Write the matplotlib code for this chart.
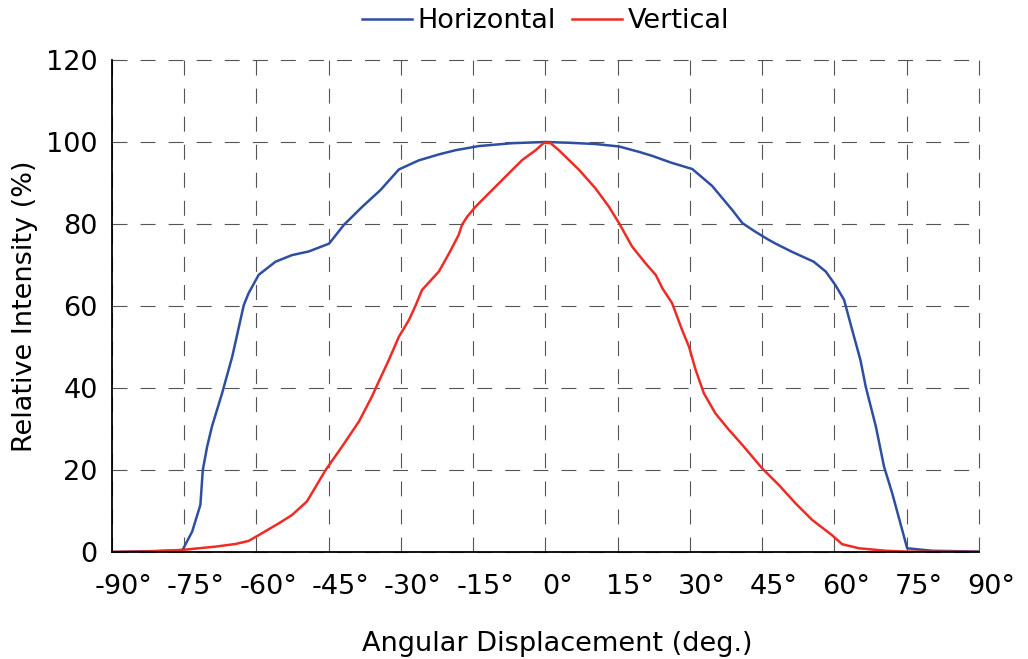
import matplotlib

matplotlib.use("Agg")
import matplotlib.pyplot as plt
import matplotlib.transforms as mtransforms

# angles (deg) and relative intensity (%)
horizontal_angle = [
    -90, -82, -77, -75.3, -73.3, -71.6, -71.1, -70.2, -69.2, -67.1, -65.0,
    -62.6, -61.6, -59.5, -56.0, -52.6, -49.1, -44.9, -41.8, -38.0, -34.2,
    -30.4, -26.3, -22.0, -18.6, -13.8, -6.9, 0, 5.0, 10.4, 15.3, 19.4, 22.2,
    26.0, 30.5, 34.6, 38.8, 40.9, 43.6, 46.4, 47.8, 51.2, 55.7, 58.2, 60.2,
    62.0, 63.7, 65.4, 66.5, 68.6, 70.3, 72.0, 75.1, 80.3, 90,
]
horizontal_value = [
    0.0, 0.2, 0.35, 0.5, 5.0, 11.5, 20.0, 25.7, 30.6, 38.7, 47.6,
    60.2, 63.1, 67.6, 70.8, 72.4, 73.3, 75.2, 79.8, 84.2, 88.3,
    93.3, 95.5, 97.0, 98.0, 99.0, 99.7, 100.0, 99.8, 99.5, 98.9, 97.6, 96.6,
    95.0, 93.4, 89.3, 83.4, 80.2, 78.1, 76.1, 75.2, 73.2, 70.8, 68.4, 65.1,
    61.5, 54.1, 46.8, 40.3, 30.6, 20.8, 14.3, 0.9, 0.3, 0.1,
]

vertical_angle = [
    -90, -82.3, -75.4, -68.5, -64.3, -61.6, -59.5, -55.3, -52.6, -49.5,
    -45.6, -42.2, -38.7, -36.0, -34.6, -32.5, -30.4, -28.3, -26.9, -25.6,
    -22.1, -20.0, -18.0, -17.3, -16.2, -14.5, -11.7, -8.3, -4.8, -2.0, -0.3,
    1.1, 2.8, 7.0, 10.4, 13.2, 15.3, 18.0, 20.8, 22.9, 24.3, 26.3, 28.4,
    29.8, 31.2, 32.9, 35.3, 38.1, 40.9, 45.0, 48.5, 51.9, 55.4, 59.5, 61.6,
    65.1, 70.6, 74.8, 90,
]
vertical_value = [
    0.0, 0.1, 0.5, 1.3, 1.95, 2.7, 4.1, 7.0, 9.0, 12.3,
    20.0, 25.7, 31.8, 37.9, 41.5, 46.8, 52.5, 56.6, 60.2, 63.9,
    68.4, 72.8, 77.3, 79.8, 81.8, 84.2, 87.5, 91.5, 95.6, 98.0, 99.8,
    99.7, 98.0, 93.2, 88.7, 84.2, 80.2, 74.5, 70.4, 67.6, 64.3, 60.7, 54.1,
    50.1, 44.4, 38.7, 33.8, 29.8, 26.1, 20.4, 16.3, 11.9, 7.8, 4.1, 1.9,
    0.9, 0.3, 0.1, 0.0,
]

x_ticks = list(range(-90, 91, 15))
x_tick_labels = [f"{t}°" for t in x_ticks]
y_ticks = list(range(0, 121, 20))

plt.rcParams["font.family"] = ["DejaVu Sans"]
plt.rcParams["lines.scale_dashes"] = False

fig = plt.figure(figsize=(10.28, 6.59), dpi=100)
ax = fig.add_axes([0.1087, 0.1624, 0.8436, 0.7466])

ax.plot(horizontal_angle, horizontal_value, color="#2E4EA0", lw=1.8,
        label="Horizontal")
ax.plot(vertical_angle, vertical_value, color="#EE2B24", lw=1.8,
        label="Vertical")

ax.set_xlim(-90, 90)
ax.set_ylim(0, 120)
ax.set_xticks(x_ticks)
ax.set_xticklabels(x_tick_labels)
ax.set_yticks(y_ticks)

ax.grid(True, color="#555555", lw=0.8, linestyle=(0, (10.8, 9.4)))
ax.set_axisbelow(True)
for gl in ax.get_xgridlines() + ax.get_ygridlines():
    gl.set_clip_on(False)

for side in ("top", "right"):
    ax.spines[side].set_visible(False)
for side in ("left", "bottom"):
    ax.spines[side].set_linewidth(1.3)
    ax.spines[side].set_color("black")

ax.tick_params(axis="both", which="major", length=0, labelsize=19.5)
ax.tick_params(axis="x", which="major", pad=16)
ax.tick_params(axis="y", which="major", pad=10)

# small cross at the origin
ax.set_xticks([-90], minor=True)
ax.set_yticks([0], minor=True)
ax.tick_params(axis="both", which="minor", length=8, width=1.3,
               direction="out", color="black")
ax.xaxis.set_minor_formatter(plt.NullFormatter())
ax.yaxis.set_minor_formatter(plt.NullFormatter())

shift = mtransforms.ScaledTranslation(0.12, 0, fig.dpi_scale_trans)
for label in ax.get_xticklabels():
    label.set_transform(label.get_transform() + shift)

ax.set_xlabel("Angular Displacement (deg.)", fontsize=19.5, labelpad=22)
ax.xaxis.label.set_transform(ax.xaxis.label.get_transform() + shift)
ax.set_ylabel("Relative Intensity (%)", fontsize=19.5, labelpad=6)

ax.legend(
    loc="lower center",
    bbox_to_anchor=(0.5, 1.025),
    ncol=2,
    frameon=False,
    fontsize=19.5,
    handlelength=1.85,
    handletextpad=0.2,
    columnspacing=0.6,
    borderaxespad=0.1,
)

fig.savefig("out.png", dpi=100)
